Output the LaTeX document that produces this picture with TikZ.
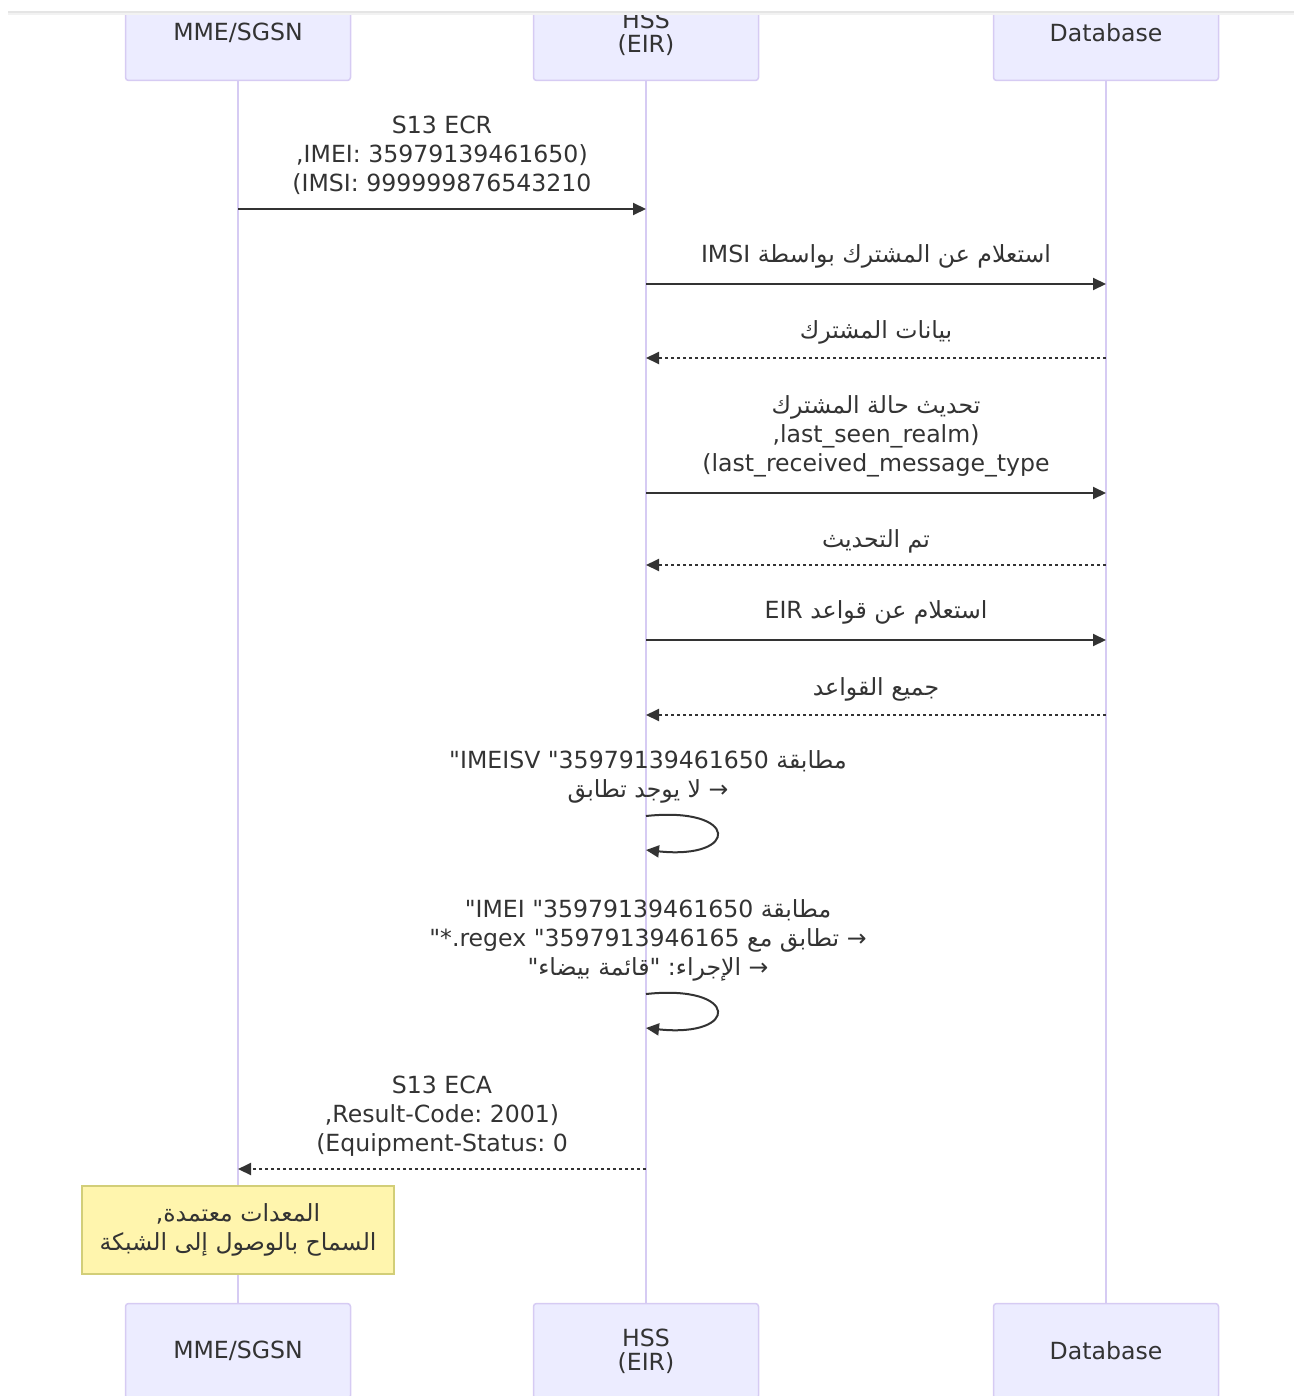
\documentclass[tikz,border=0pt]{standalone}
\usepackage{fontspec}
\setmainfont{DejaVu Sans}[Ligatures=TeXOff]
\newfontfamily\arabicfont[Script=Arabic, Ligatures=TeXOff]{DejaVu Sans}
\TeXXeTstate=1
\frenchspacing
\usetikzlibrary{arrows.meta}

\definecolor{actorfill}{HTML}{ECECFF}
\definecolor{actorline}{HTML}{D6CBF3}
\definecolor{msgline}{HTML}{333333}
\definecolor{notefill}{HTML}{FFF5AD}
\definecolor{noteline}{HTML}{D2CE78}

\newcommand{\artxt}[1]{{\arabicfont\beginR #1\endR}}
\newcommand{\ltr}[1]{\beginL{\normalfont #1}\endL{}}

\begin{document}
\begin{tikzpicture}[x=0.5pt, y=-0.5pt,
    actor/.style={draw=actorline, fill=actorfill, line width=0.75pt, rounded corners=1.5pt,
        minimum width=112.5pt, minimum height=47.5pt, align=center, text=msgline,
        font=\fontsize{11.8}{12}\selectfont},
    life/.style={draw=actorline, line width=1pt},
    msg/.style={draw=msgline, line width=1pt, -{Triangle[length=6.5pt, width=6pt]}},
    reply/.style={msg, dash pattern=on 1.5pt off 1.5pt},
    lbl/.style={align=center, text=msgline, font=\fontsize{11.8}{14.5}\selectfont},
    note/.style={draw=noteline, fill=notefill, line width=0.75pt, minimum width=156pt,
        minimum height=44pt, align=center, text=msgline, font=\fontsize{11.8}{14.5}\selectfont}]

    \useasboundingbox (0,0) rectangle (1294,1396);

    % === Actors (top and bottom) ===
    \node[actor] (mmeT) at (238,33) {MME/SGSN};
    \node[actor] (hssT) at (646,33) {HSS\\(EIR)};
    \node[actor] (dbT)  at (1106,33) {Database};
    \node[actor] (mmeB) at (238,1351) {MME/SGSN};
    \node[actor] (hssB) at (646,1351) {HSS\\(EIR)};
    \node[actor] (dbB)  at (1106,1351) {Database};

    % Lifelines
    \draw[life] (mmeT) -- (mmeB);
    \draw[life] (hssT) -- (hssB);
    \draw[life] (dbT) -- (dbB);

    % === Messages ===
    % S13 ECR request
    \node[lbl] (l1) at (442,155) {S13 ECR\\,IMEI: 35979139461650)\\(IMSI: 999999876543210};
    \coordinate (r1) at (0,209);
    \draw[msg] (mmeT |- r1) -- (hssT |- r1);

    % subscriber lookup
    \node[lbl] (l2) at (876,256) {\artxt{استعلام عن المشترك بواسطة \ltr{IMSI}}};
    \coordinate (r2) at (0,284);
    \draw[msg] (hssT |- r2) -- (dbT |- r2);

    \node[lbl] (l3) at (876,332) {\artxt{بيانات المشترك}};
    \coordinate (r3) at (0,358);
    \draw[reply] (dbT |- r3) -- (hssT |- r3);

    % subscriber state update
    \node[lbl] (l4) at (876,436) {\artxt{تحديث حالة المشترك}\\,last\_seen\_realm)\\(last\_received\_message\_type};
    \coordinate (r4) at (0,493);
    \draw[msg] (hssT |- r4) -- (dbT |- r4);

    \node[lbl] (l5) at (876,541) {\artxt{تم التحديث}};
    \coordinate (r5) at (0,565);
    \draw[reply] (dbT |- r5) -- (hssT |- r5);

    % EIR rules
    \node[lbl] (l6) at (876,612) {\artxt{استعلام عن قواعد \ltr{EIR}}};
    \coordinate (r6) at (0,640);
    \draw[msg] (hssT |- r6) -- (dbT |- r6);

    \node[lbl] (l7) at (876,689) {\artxt{جميع القواعد}};
    \coordinate (r7) at (0,715);
    \draw[reply] (dbT |- r7) -- (hssT |- r7);

    % === Self loops on HSS ===
    \node[lbl] (l8) at (648,777) {\artxt{مطابقة \ltr{"IMEISV "35979139461650}}\\\artxt{→ لا يوجد تطابق}};
    \coordinate (s1a) at (0,816);
    \coordinate (s1b) at (0,850);
    \draw[msg] (hssT |- s1a) .. controls +(94,-10) and +(94,10) .. (hssT |- s1b);

    \node[lbl] (l9) at (648,940) {\artxt{مطابقة \ltr{"IMEI "35979139461650}}\\\artxt{→ تطابق مع \ltr{"*.regex "3597913946165}}\\\artxt{→ الإجراء: "قائمة بيضاء"}};
    \coordinate (s2a) at (0,994);
    \coordinate (s2b) at (0,1028);
    \draw[msg] (hssT |- s2a) .. controls +(94,-10) and +(94,10) .. (hssT |- s2b);

    % S13 ECA answer
    \node[lbl] (l10) at (442,1116) {S13 ECA\\,Result-Code: 2001)\\(Equipment-Status: 0};
    \coordinate (r10) at (0,1169);
    \draw[reply] (hssT |- r10) -- (mmeT |- r10);

    % Note over MME
    \node[note] (ok) at (238,1230) {\artxt{المعدات معتمدة,}\\\artxt{السماح بالوصول إلى الشبكة}};

    % top edge band
    \fill[white] (0,0) rectangle (1294,11);
    \draw[black!10, line width=1pt] (8,12) -- (1294,12);
    \draw[black!5, line width=1pt] (8,14) -- (1294,14);

\end{tikzpicture}
\end{document}
